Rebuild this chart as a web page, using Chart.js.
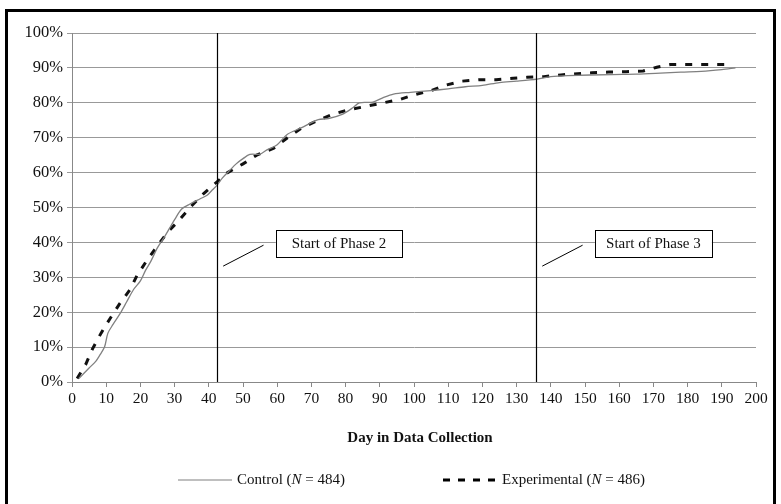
<!DOCTYPE html>
<html>
<head>
<meta charset="utf-8">
<script src="https://cdn.jsdelivr.net/npm/chart.js@4.4.1/dist/chart.umd.min.js"></script>
<style>
  html, body { margin: 0; padding: 0; background: #fff; }
  #wrap { width: 781px; height: 504px; }
</style>
</head>
<body>
<div id="wrap"><canvas id="chart" width="781" height="504"></canvas></div>
<script>
// cumulative % of respondents by day
const controlDays = [2, 5, 7, 8, 9.5, 10.5, 12, 14, 16, 18, 20, 21.5, 23, 25, 27, 28.5, 30, 32, 34.5, 37.5, 39.5, 41, 42.5, 44, 46, 48, 50, 52, 55, 57, 60, 63, 67, 70, 72, 75, 79, 82, 84, 88, 91, 94, 99, 105, 110, 115, 120, 125, 130, 136, 140, 145, 158, 165, 172, 178, 184, 190, 194];
const controlPct = [1, 4, 6, 7.5, 10, 14, 16.5, 19.5, 23, 26.5, 29, 32, 34.5, 38.5, 41.5, 44, 46.5, 49.5, 51, 52.5, 53.5, 55, 56.5, 58.5, 60.5, 62.5, 64, 65.2, 65.3, 66.5, 68, 71, 72.8, 74.3, 75.2, 75.5, 76.7, 78.5, 80, 80.2, 81.5, 82.5, 83, 83.5, 84, 84.6, 85, 85.8, 86.2, 86.8, 87.5, 87.8, 88.1, 88.2, 88.5, 88.8, 89, 89.5, 90];

const expDays = [1.5, 4, 6, 8.5, 11, 14, 17, 19, 22, 25, 28, 31, 35, 38.5, 42, 45.5, 50, 54, 59, 63, 67.5, 72, 76.5, 81, 86, 91, 96, 100, 105, 109, 114, 119, 124, 129, 133, 138, 143, 152, 157, 162, 167, 171, 175, 192];
const expPct = [1, 5, 9.5, 14, 18, 22.5, 26.5, 30.5, 35, 39, 43, 46, 50.5, 54, 57, 60, 62.5, 65, 67, 70, 73, 75, 76.8, 78, 79, 80, 81, 82.3, 83.5, 85, 86.2, 86.6, 86.6, 87, 87.3, 87.5, 88, 88.6, 88.8, 88.9, 89.1, 90.2, 91, 91];

const phaseDays = [42.4, 135.7];
const phaseLabels = ["Start of Phase 2", "Start of Phase 3"];

const xTitle = "Day in Data Collection";
const legendItems = [
  { pre: "Control (", n: "N", post: " = 484)" },
  { pre: "Experimental (", n: "N", post: " = 486)" },
];

const SERIF = "'Liberation Serif', 'Times New Roman', serif";

function toPoints(xs, ys) {
  return xs.map((x, i) => ({ x: x, y: ys[i] }));
}

// vertical phase lines + callout boxes
const phasePlugin = {
  id: "phases",
  afterDatasetsDraw(chart) {
    const ctx = chart.ctx;
    const xs = chart.scales.x;
    const ys = chart.scales.y;
    const area = chart.chartArea;
    ctx.save();
    phaseDays.forEach((d, i) => {
      const px = Math.round(xs.getPixelForValue(d)) + 0.5;
      ctx.strokeStyle = "#000";
      ctx.lineWidth = 1.2;
      ctx.beginPath();
      ctx.moveTo(px, area.top);
      ctx.lineTo(px, area.bottom);
      ctx.stroke();

      // callout box, placed right of the line
      const bx0 = xs.getPixelForValue(d + 17.2);
      const bx1 = xs.getPixelForValue(d + 54.1 - (i ? 2.7 : 0));
      const by0 = ys.getPixelForValue(43.6);
      const by1 = ys.getPixelForValue(35.8);
      ctx.fillStyle = "#fff";
      ctx.fillRect(bx0, by0, bx1 - bx0, by1 - by0);
      ctx.strokeStyle = "#000";
      ctx.lineWidth = 1;
      ctx.strokeRect(Math.round(bx0) + 0.5, Math.round(by0) + 0.5, Math.round(bx1 - bx0), Math.round(by1 - by0));
      ctx.fillStyle = "#111";
      ctx.font = "15px " + SERIF;
      ctx.textAlign = "center";
      ctx.textBaseline = "middle";
      ctx.fillText(phaseLabels[i], (bx0 + bx1) / 2, (by0 + by1) / 2 + 1);

      // leader line
      ctx.lineWidth = 1;
      ctx.beginPath();
      ctx.moveTo(xs.getPixelForValue(d + 1.8), ys.getPixelForValue(33.2));
      ctx.lineTo(xs.getPixelForValue(d + 13.6), ys.getPixelForValue(39.2));
      ctx.stroke();
    });
    ctx.restore();
  },
};

// frame, axis title and legend with italic N
const decorPlugin = {
  id: "decor",
  afterDraw(chart) {
    const ctx = chart.ctx;
    const area = chart.chartArea;
    ctx.save();
    ctx.strokeStyle = "#000";
    ctx.lineWidth = 3;
    ctx.strokeRect(6.5, 10.5, 768, 500);

    ctx.fillStyle = "#111";
    ctx.font = "bold 15px " + SERIF;
    ctx.textAlign = "center";
    ctx.textBaseline = "middle";
    ctx.fillText(xTitle, (area.left + area.right) / 2 + 6, 438);

    const ly = 480;
    const starts = [178, 443];
    legendItems.forEach((it, i) => {
      const x0 = starts[i];
      ctx.beginPath();
      if (i === 0) {
        ctx.strokeStyle = "#808080";
        ctx.lineWidth = 1.2;
        ctx.setLineDash([]);
      } else {
        ctx.strokeStyle = "#000";
        ctx.lineWidth = 3;
        ctx.setLineDash([7, 8]);
      }
      ctx.moveTo(x0, ly);
      ctx.lineTo(x0 + 54, ly);
      ctx.stroke();
      ctx.setLineDash([]);

      ctx.textAlign = "left";
      let tx = x0 + 59;
      ctx.font = "15px " + SERIF;
      ctx.fillText(it.pre, tx, ly);
      tx += ctx.measureText(it.pre).width;
      ctx.font = "italic 15px " + SERIF;
      ctx.fillText(it.n, tx, ly);
      tx += ctx.measureText(it.n).width;
      ctx.font = "15px " + SERIF;
      ctx.fillText(it.post, tx, ly);
    });
    ctx.restore();
  },
};

new Chart(document.getElementById("chart"), {
  type: "line",
  data: {
    datasets: [
      {
        label: "Control",
        data: toPoints(controlDays, controlPct),
        borderColor: "#808080",
        borderWidth: 1.3,
        pointRadius: 0,
        tension: 0.3,
        fill: false,
      },
      {
        label: "Experimental",
        data: toPoints(expDays, expPct),
        borderColor: "#111",
        borderWidth: 3,
        borderDash: [7, 9],
        pointRadius: 0,
        tension: 0,
        fill: false,
      },
    ],
  },
  options: {
    responsive: false,
    animation: false,
    layout: { padding: { top: 33, right: 25, left: 0, bottom: 0 } },
    plugins: {
      legend: { display: false },
      tooltip: { enabled: false },
    },
    scales: {
      x: {
        type: "linear",
        min: 0,
        max: 200,
        afterFit: (scale) => { scale.height = 122; },
        ticks: {
          stepSize: 10,
          color: "#111",
          padding: 3,
          maxRotation: 0,
          font: { family: SERIF, size: 15.5 },
        },
        grid: {
          drawOnChartArea: false,
          drawTicks: true,
          tickLength: 5,
          color: "#888",
        },
        border: { color: "#888", width: 1 },
      },
      y: {
        min: 0,
        max: 100,
        afterFit: (scale) => { scale.width = 72; },
        ticks: {
          stepSize: 10,
          color: "#111",
          padding: 4,
          font: { family: SERIF, size: 16.5 },
          callback: (v) => v + "%",
        },
        grid: {
          color: "#999",
          tickLength: 5,
        },
        border: { color: "#888", width: 1 },
      },
    },
  },
  plugins: [phasePlugin, decorPlugin],
});
</script>
</body>
</html>
